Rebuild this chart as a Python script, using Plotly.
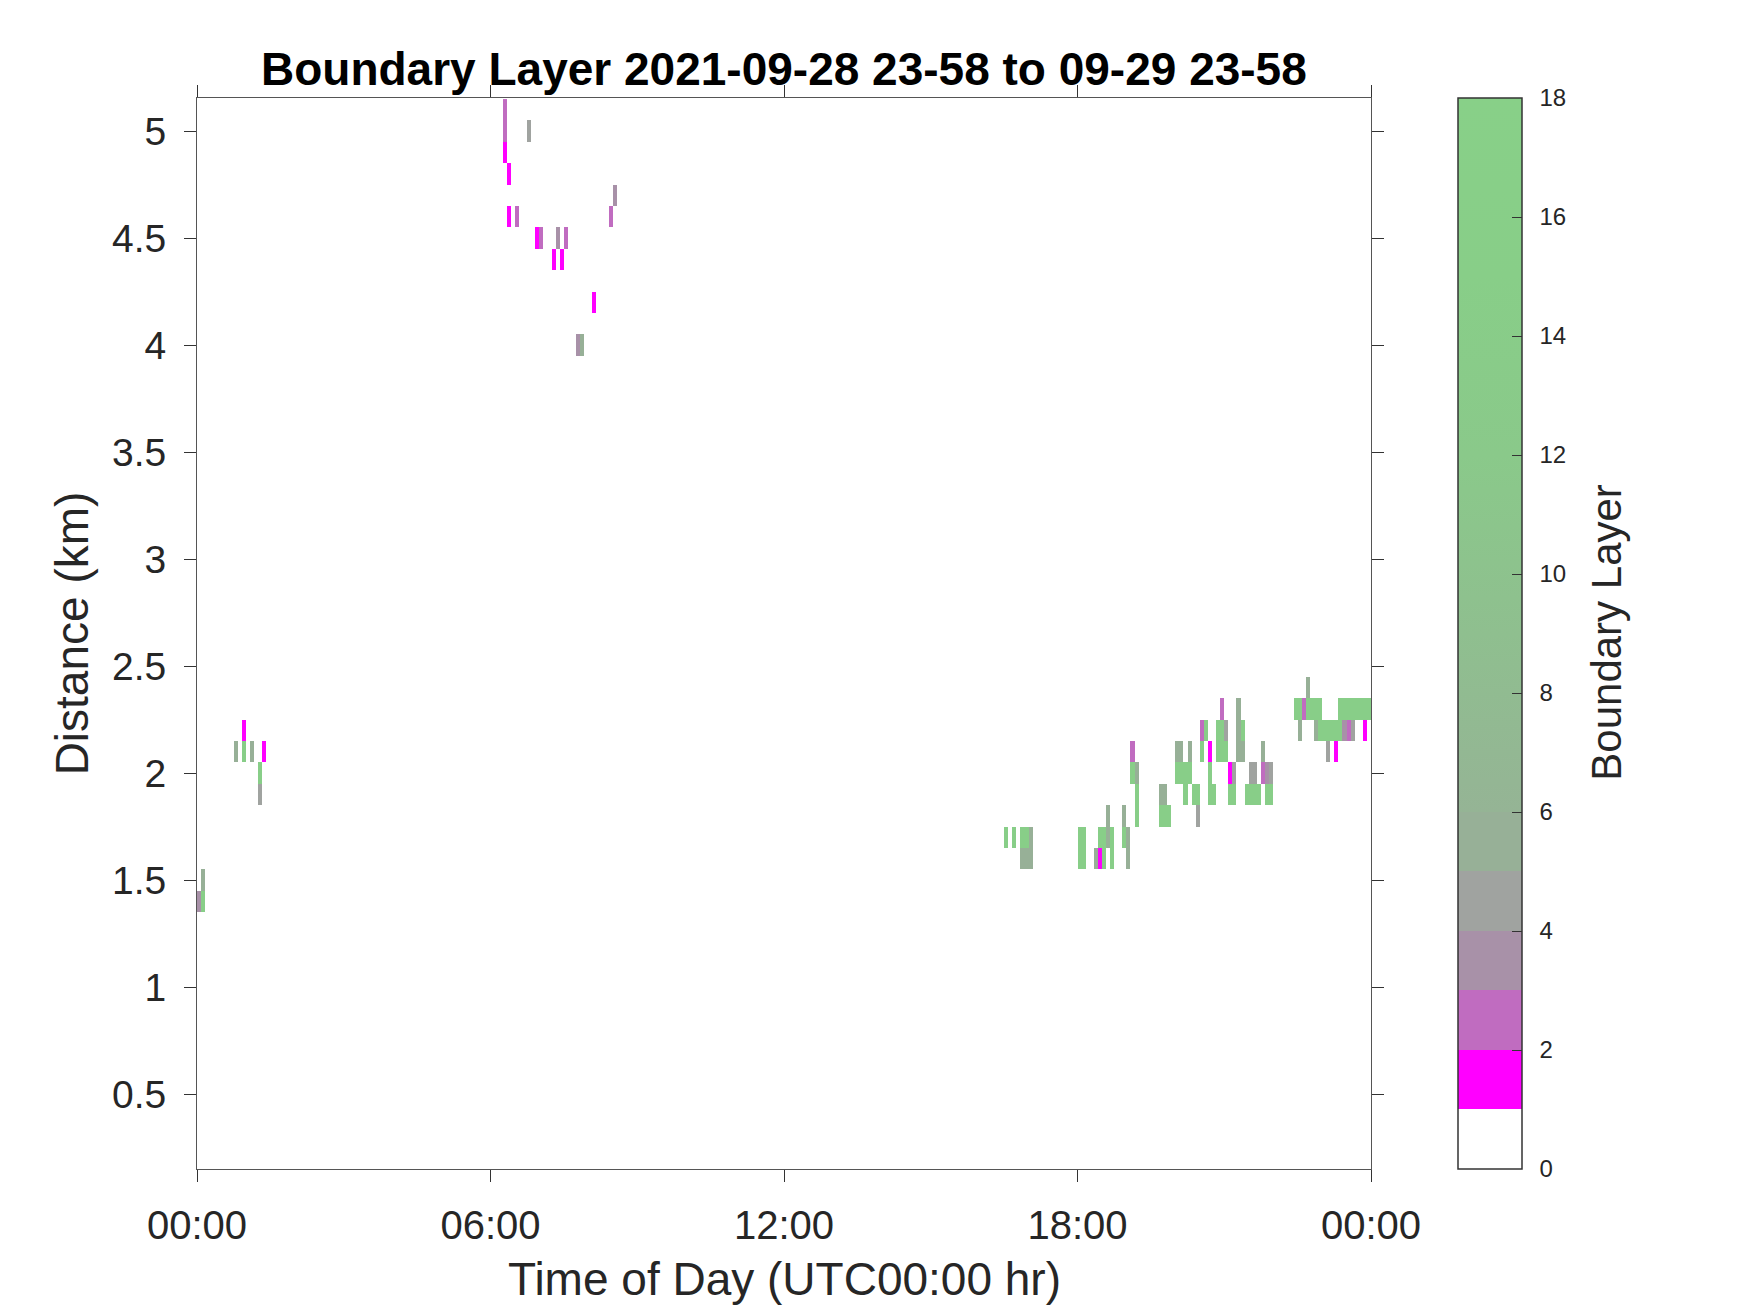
import numpy as np
import plotly.graph_objects as go

# ---------------- data ----------------
# class values used for colouring (Boundary Layer index)
M, P, Q, G, S, N = 1.5, 2.5, 3.5, 4.5, 5.5, 15.0

# minutes since 00:00 (start of 5-min bin), height (km), value
cell_minutes = [
    0, 5, 5, 45, 55, 55, 65, 75, 75, 80,
    375, 375, 375, 380, 380, 390, 405, 415, 420, 435, 440, 445, 450, 465, 470, 485, 505, 510,
    990, 1000, 1010, 1010, 1015, 1015, 1020, 1020, 1080, 1080, 1085, 1085,
    1100, 1105, 1105, 1110, 1110, 1115, 1115, 1120, 1120, 1135, 1135, 1140, 1140,
    1145, 1145, 1150, 1150, 1150, 1180, 1180, 1185, 1185, 1190,
    1200, 1200, 1205, 1205, 1210, 1210, 1215, 1215, 1220, 1225, 1225,
    1230, 1230, 1235, 1240, 1240, 1240, 1245, 1250, 1250, 1255, 1255, 1255,
    1260, 1260, 1265, 1265, 1270, 1270, 1275, 1275, 1275, 1280, 1280,
    1285, 1290, 1290, 1295, 1295, 1300, 1305, 1305, 1310, 1310, 1315, 1315,
    1345, 1350, 1350, 1355, 1360, 1360, 1365, 1370, 1370, 1375, 1375, 1380,
    1385, 1385, 1390, 1395, 1395, 1400, 1400, 1405, 1405, 1410, 1410, 1415, 1415,
    1420, 1425, 1430, 1430, 1435,
]
cell_height_km = [
    1.4, 1.5, 1.4, 2.1, 2.2, 2.1, 2.1, 2.0, 1.9, 2.1,
    5.1, 5.0, 4.9, 4.8, 4.6, 4.6, 5.0, 4.5, 4.5, 4.4, 4.5, 4.4, 4.5, 4.0, 4.0, 4.2, 4.6, 4.7,
    1.7, 1.7, 1.7, 1.6, 1.7, 1.6, 1.7, 1.6, 1.7, 1.6, 1.7, 1.6,
    1.6, 1.7, 1.6, 1.7, 1.6, 1.8, 1.7, 1.7, 1.6, 1.8, 1.7, 1.7, 1.6,
    2.1, 2.0, 2.0, 1.9, 1.8, 1.9, 1.8, 1.9, 1.8, 1.8,
    2.1, 2.0, 2.1, 2.0, 2.0, 1.9, 2.1, 2.0, 1.9, 1.9, 1.8,
    2.2, 2.1, 2.2, 2.1, 2.0, 1.9, 1.9, 2.2, 2.1, 2.3, 2.2, 2.1,
    2.2, 2.1, 2.0, 1.9, 2.0, 1.9, 2.3, 2.2, 2.1, 2.2, 2.1,
    1.9, 2.0, 1.9, 2.0, 1.9, 1.9, 2.1, 2.0, 2.0, 1.9, 2.0, 1.9,
    2.3, 2.3, 2.2, 2.3, 2.4, 2.3, 2.3, 2.3, 2.2, 2.3, 2.2, 2.2,
    2.2, 2.1, 2.2, 2.2, 2.1, 2.3, 2.2, 2.3, 2.2, 2.3, 2.2, 2.3, 2.2,
    2.3, 2.3, 2.3, 2.2, 2.3,
]
cell_value = [
    Q, S, N, S, M, N, S, N, G, M,
    P, P, M, M, M, P, G, M, P, M, Q, M, P, Q, S, M, P, Q,
    N, N, N, S, N, S, S, S, N, N, N, N,
    S, N, M, N, N, S, S, N, N, S, N, S, S,
    P, N, S, N, N, S, N, S, N, N,
    S, N, S, N, N, N, S, N, N, N, G,
    P, N, N, M, N, N, N, N, N, P, N, N,
    G, N, M, N, G, N, S, S, S, N, S,
    N, G, N, G, N, N, S, P, Q, N, G, N,
    N, N, S, P, S, N, N, N, S, N, N, N,
    N, G, N, N, M, N, N, N, Q, N, P, N, G,
    N, N, N, M, N,
]

bin_minutes = 5
heights_km = np.round(np.arange(0.2, 5.1001, 0.1), 2)
x_tick_hours = [0, 6, 12, 18, 24]
x_tick_text = ["00:00", "06:00", "12:00", "18:00", "00:00"]
y_tick_vals = [0.5, 1, 1.5, 2, 2.5, 3, 3.5, 4, 4.5, 5]
y_tick_text = ["0.5", "1", "1.5", "2", "2.5", "3", "3.5", "4", "4.5", "5"]
cbar_ticks = [0, 2, 4, 6, 8, 10, 12, 14, 16, 18]

# ---------------- grid ----------------
n_cols = 24 * 60 // bin_minutes
x_hours = (np.arange(n_cols) + 0.5) * bin_minutes / 60.0
z = np.full((len(heights_km), n_cols), np.nan)
for m, h, v in zip(cell_minutes, cell_height_km, cell_value):
    r = int(round((h - heights_km[0]) / 0.1))
    c = int(m // bin_minutes)
    z[r, c] = v

# ---------------- colours ----------------
def f(v):
    return v / 18.0

colorscale = [
    [f(0), "#ffffff"], [f(1), "#ffffff"],
    [f(1), "#ff00ff"], [f(2), "#ff00ff"],
    [f(2), "#c06cc0"], [f(3), "#c06cc0"],
    [f(3), "#a891a8"], [f(4), "#a891a8"],
    [f(4), "#a0a3a0"], [f(5), "#a0a3a0"],
    [f(5), "#97b097"], [f(6), "#97b097"],
    [f(6), "#95b495"],
    [f(9), "#8fbf8f"],
    [f(12), "#8ac98a"],
    [f(15), "#88ce88"],
    [f(18), "#88d088"],
]

FONT = "Liberation Sans, Arial, Helvetica, sans-serif"
OFF = 8                     # default page margin of the html body
W, H = 1750 - 2 * OFF, 1313 - 2 * OFF
# wanted plot area in window pixels
px0, px1 = 196.5, 1371.3
py0, py1 = 97.7, 1169.0
pw = px1 - px0
ph = py1 - py0

fig = go.Figure()
fig.add_trace(go.Heatmap(
    x=x_hours, y=heights_km, z=z,
    zmin=0, zmax=18, colorscale=colorscale,
    hoverongaps=False,
    colorbar=dict(
        x=(1458.7 - px0) / pw, xanchor="left", xpad=0,
        y=0.5, yanchor="middle", ypad=0, len=1, lenmode="fraction",
        thickness=64, thicknessmode="pixels",
        outlinewidth=1.5, outlinecolor="#333333",
        tickvals=cbar_ticks,
        ticktext=["\u00a0\u2009" + str(t) for t in cbar_ticks],
        ticks="inside", ticklen=10, tickwidth=1.2,
        tickcolor="#333333",
        tickfont=dict(family=FONT, size=24, color="#262626"),
    ),
))

fig.add_annotation(
    text="Boundary Layer", textangle=-90,
    xref="paper", yref="paper",
    x=(1607 - px0) / pw, y=(py1 - 632) / ph,
    xanchor="center", yanchor="middle", showarrow=False,
    font=dict(family=FONT, size=42, color="#262626"),
)
fig.add_annotation(
    text="Time of Day (UTC00:00 hr)",
    xref="paper", yref="paper",
    x=0.5, y=(py1 - 1279) / ph,
    xanchor="center", yanchor="middle", showarrow=False,
    font=dict(family=FONT, size=46, color="#262626"),
)

fig.update_layout(
    width=W, height=H,
    margin=dict(l=px0 - OFF, r=W - (px1 - OFF), t=py0 - OFF, b=H - (py1 - OFF),
                pad=0, autoexpand=False),
    paper_bgcolor="white", plot_bgcolor="white",
    title=dict(text="<b>Boundary Layer 2021-09-28 23-58 to 09-29 23-58</b>",
               x=((px0 + px1) / 2 - OFF) / W, xanchor="center",
               y=1 - (69 - OFF) / H, yanchor="middle",
               font=dict(family=FONT, size=46, color="black")),
    font=dict(family=FONT),
)
fig.update_xaxes(
    range=[0, 24], tickvals=x_tick_hours, ticktext=x_tick_text,
    showline=True, linecolor="#555555", linewidth=1, mirror="ticks",
    ticks="outside", ticklen=12, tickwidth=1.2, tickcolor="#333333",
    ticklabelstandoff=9, automargin=False,
    showgrid=False, zeroline=False,
    tickfont=dict(family=FONT, size=40, color="#262626"),
)
fig.update_yaxes(
    range=[0.15, 5.155], tickvals=y_tick_vals, ticktext=y_tick_text,
    showline=True, linecolor="#555555", linewidth=1, mirror="ticks",
    ticks="outside", ticklen=12, tickwidth=1.2, tickcolor="#333333",
    ticklabelstandoff=10, automargin=False,
    showgrid=False, zeroline=False,
    tickfont=dict(family=FONT, size=39, color="#262626"),
    title=dict(text="Distance (km)", standoff=8,
               font=dict(family=FONT, size=46, color="#262626")),
)

fig.write_html("out.html")
